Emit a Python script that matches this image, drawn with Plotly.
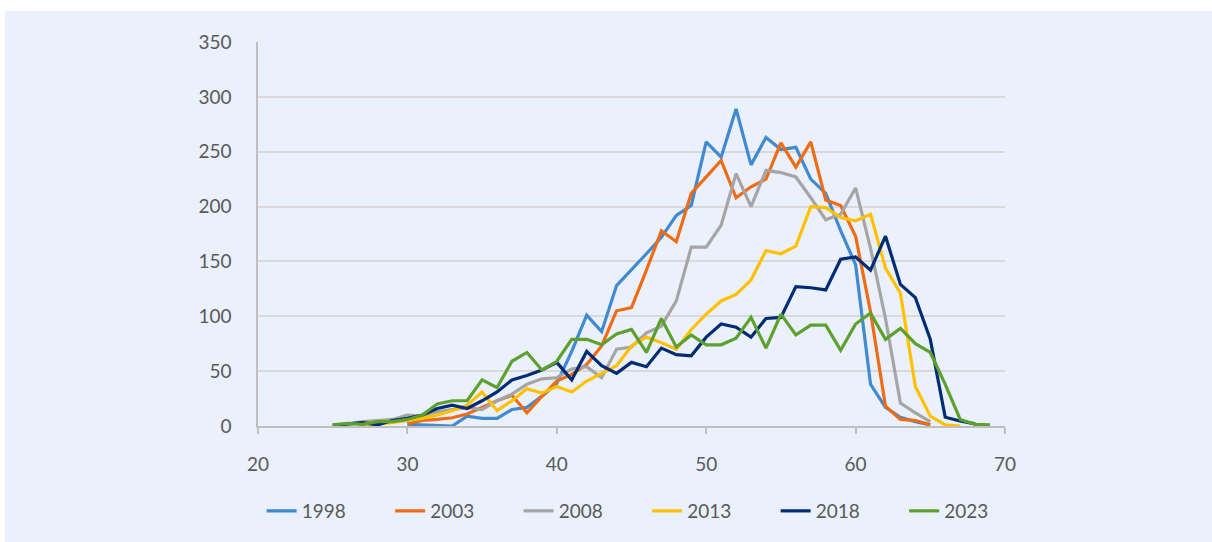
import plotly.graph_objects as go

# Age axis and series per survey year
ages_1998 = list(range(30, 66))
v_1998 = [1.5, 1, 0.3, 0, 9, 7, 7, 15, 17, 27, 39, 68, 101, 86, 128, 142, 157, 172,
          192, 201, 259, 245, 289, 238, 263, 252, 254, 225, 212, 178, 147, 38, 17, 8, 4, 1]

ages_2003 = list(range(30, 66))
v_2003 = [2, 5, 6, 7.5, 11, 17, 23, 28, 12, 27, 41, 47, 56, 73, 105, 108, 142, 178,
          168, 212, 227, 242, 208, 218, 225, 258, 236, 259, 206, 201, 173, 104, 18, 6, 5, 1]

ages_2008 = list(range(26, 66))
v_2008 = [2, 4, 5, 6, 10, 9, 13, 15, 17, 15, 23, 29, 38, 43, 44, 52, 54, 44, 70, 72,
          85, 91, 114, 163, 163, 183, 230, 200, 233, 231, 227, 208, 188, 193, 217, 162,
          98, 21, 12, 4]

ages_2013 = list(range(27, 68))
v_2013 = [1, 2, 3, 5, 7, 10, 14, 19, 31, 14, 23, 34, 30, 36, 31, 41, 48, 55, 73, 81,
          76, 70, 88, 102, 114, 120, 133, 160, 157, 164, 200, 199, 190, 187, 193, 144,
          121, 36, 9, 1, 0]

ages_2018 = list(range(25, 69))
v_2018 = [0.5, 1.5, 3, 1, 5, 7, 10, 16, 19, 16, 23, 31, 42, 46, 51, 58, 42, 68, 55, 48,
          58, 54, 71, 65, 64, 81, 93, 90, 81, 98, 99, 127, 126, 124, 152, 154, 142, 173,
          129, 117, 79, 8, 4.5, 2]

ages_2023 = list(range(25, 70))
v_2023 = [1, 2.4, 1.5, 4, 4, 6, 10, 20, 23, 23, 42, 35, 59, 67, 51, 59, 79, 79, 74, 84,
          88, 67, 98, 72, 83, 74, 74, 80, 99, 71, 102, 83, 92, 92, 69, 93, 103, 79, 89,
          75, 67, 38, 6, 1.5, 1]

series = [
    ("1998", ages_1998, v_1998, "#418AD0"),
    ("2003", ages_2003, v_2003, "#EE6C16"),
    ("2008", ages_2008, v_2008, "#A5A5A5"),
    ("2013", ages_2013, v_2013, "#FFC000"),
    ("2018", ages_2018, v_2018, "#002C73"),
    ("2023", ages_2023, v_2023, "#5EA02E"),
]

x_ticks = [20, 30, 40, 50, 60, 70]
y_ticks = [0, 50, 100, 150, 200, 250, 300, 350]

BG = "#EAF1FD"
FONT = "Lato, 'Open Sans', sans-serif"

fig = go.Figure()
for name, xs, ys, color in series:
    fig.add_trace(go.Scatter(
        x=xs, y=ys, name=name, mode="lines",
        line=dict(color=color, width=3.2),
    ))

# pale panel behind the whole chart, leaving a thin white border top/left
W, H = 1212, 542
L, R, T, B = 258, 207, 42, 116
pw, ph = W - L - R, H - T - B
fig.add_shape(
    type="rect", xref="paper", yref="paper", layer="below",
    x0=(5 - L) / pw, x1=(W - L) / pw,
    y0=-(H - (T + ph)) / ph, y1=((T + ph) - 11) / ph,
    fillcolor=BG, line=dict(width=0),
)

fig.update_layout(
    width=W, height=H,
    margin=dict(l=L, r=R, t=T, b=B, autoexpand=False),
    paper_bgcolor="white",
    plot_bgcolor="rgba(0,0,0,0)",
    font=dict(family=FONT, size=19, color="#595959"),
    showlegend=True,
    legend=dict(
        orientation="h", x=-0.0005, xanchor="left", indentation=4,
        y=-(511 - (T + ph)) / ph, yanchor="middle",
        entrywidth=79.5, entrywidthmode="pixels",
        bgcolor="rgba(0,0,0,0)", font=dict(size=19),
    ),
    xaxis=dict(
        range=[20, 70], tickvals=x_ticks, showgrid=False,
        showline=True, linecolor="#BFBFBF", linewidth=1.5,
        ticks="outside", ticklen=6, tickcolor="#BFBFBF", tickwidth=1.5,
        ticklabelstandoff=14, zeroline=False,
    ),
    yaxis=dict(
        range=[0, 350], tickvals=y_ticks, showgrid=True,
        gridcolor="#D9D9D9", gridwidth=1.5,
        showline=True, linecolor="#BFBFBF", linewidth=1.5,
        ticks="", ticklabelstandoff=21, zeroline=False,
    ),
)

fig.write_html("out.html")
